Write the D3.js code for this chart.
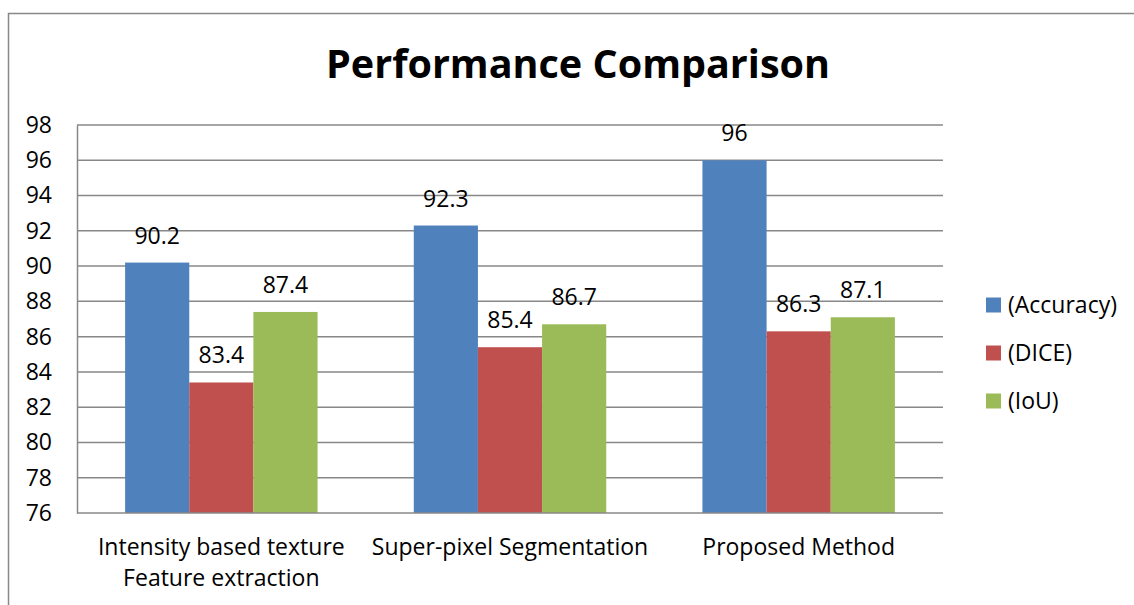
<!DOCTYPE html>
<html>
<head>
<meta charset="utf-8">
<script src="https://cdn.jsdelivr.net/npm/d3@7"></script>
<style>
  html, body { margin: 0; padding: 0; background: #fff; }
  svg { display: block; }
  text { font-family: "Open Sans", Lato, sans-serif; fill: #000; }
</style>
</head>
<body>
<svg id="chart" width="1134" height="605"></svg>
<script>
// Methods on the x axis (each may wrap onto two lines)
const categories = [
  ["Intensity based texture", "Feature extraction"],
  ["Super-pixel Segmentation"],
  ["Proposed Method"]
];
const seriesNames = ["(Accuracy)", "(DICE)", "(IoU)"];
const accuracy = [90.2, 92.3, 96];
const dice = [83.4, 85.4, 86.3];
const iou = [87.4, 86.7, 87.1];
const seriesValues = [accuracy, dice, iou];
const seriesColors = ["#4F81BD", "#C0504D", "#9BBB59"];
const yTicks = [76, 78, 80, 82, 84, 86, 88, 90, 92, 94, 96, 98];

const FONT = "\"Open Sans\", Lato, sans-serif";
const FS = 23;
const svg = d3.select("#chart");

// outer chart frame
svg.append("rect")
  .attr("x", 8.5).attr("y", 13.5)
  .attr("width", 1200).attr("height", 700)
  .attr("fill", "none").attr("stroke", "#888").attr("stroke-width", 1.5);

const plot = { left: 77, right: 943, top: 125, bottom: 513 };

const x0 = d3.scaleBand()
  .domain(d3.range(categories.length))
  .range([plot.left, plot.right])
  .paddingInner(0).paddingOuter(0);

// Excel-style gap width of 150%: three bars plus 1.5 bar widths of gap per band
const barW = x0.bandwidth() / 4.5;
const x1 = d3.scaleBand()
  .domain(d3.range(seriesNames.length))
  .range([0, barW * 3]);

const y = d3.scaleLinear()
  .domain([76, 98])
  .range([plot.bottom, plot.top]);

// horizontal gridlines
svg.append("g")
  .selectAll("line")
  .data(yTicks.filter(t => t !== 76))
  .join("line")
  .attr("x1", plot.left).attr("x2", plot.right)
  .attr("y1", d => y(d)).attr("y2", d => y(d))
  .attr("stroke", "#888").attr("stroke-width", 1.5);

// bars
const groups = svg.append("g")
  .selectAll("g")
  .data(categories.map((c, i) => i))
  .join("g")
  .attr("transform", i => `translate(${x0(i) + (x0.bandwidth() - barW * 3) / 2},0)`);

groups.selectAll("rect")
  .data(i => seriesValues.map((s, k) => ({ k, v: s[i] })))
  .join("rect")
  .attr("x", d => x1(d.k))
  .attr("width", x1.bandwidth())
  .attr("y", d => y(d.v))
  .attr("height", d => y(76) - y(d.v))
  .attr("fill", d => seriesColors[d.k]);

// value labels
groups.selectAll("text")
  .data(i => seriesValues.map((s, k) => ({ k, v: s[i] })))
  .join("text")
  .attr("x", d => x1(d.k) + x1.bandwidth() / 2)
  .attr("y", d => y(d.v) - 19)
  .attr("text-anchor", "middle")
  .attr("font-size", FS)
  .text(d => d.v);

// y axis
const yAxis = svg.append("g")
  .attr("transform", `translate(${plot.left},0)`)
  .call(d3.axisLeft(y).tickValues(yTicks).tickSize(0).tickPadding(25).tickFormat(d3.format("d")));
yAxis.select(".domain").attr("stroke", "#888").attr("stroke-width", 1.5);
yAxis.selectAll("text")
  .attr("font-size", FS)
  .attr("font-family", FONT)
  .attr("fill", "#000");

// x axis line
svg.append("line")
  .attr("x1", plot.left).attr("x2", plot.right)
  .attr("y1", plot.bottom).attr("y2", plot.bottom)
  .attr("stroke", "#888").attr("stroke-width", 1.5);

// category labels
const catLabels = svg.append("g")
  .selectAll("text")
  .data(categories.map((c, i) => ({ c, i })))
  .join("text")
  .attr("x", d => x0(d.i) + x0.bandwidth() / 2)
  .attr("y", 555)
  .attr("text-anchor", "middle")
  .attr("font-size", FS);
catLabels.selectAll("tspan")
  .data(d => d.c.map((line, j) => ({ line, j, x: x0(d.i) + x0.bandwidth() / 2 })))
  .join("tspan")
  .attr("x", d => d.x)
  .attr("dy", d => d.j === 0 ? 0 : 31)
  .text(d => d.line);

// title
svg.append("text")
  .attr("x", 578).attr("y", 78)
  .attr("text-anchor", "middle")
  .attr("font-size", 40)
  .attr("font-weight", "bold")
  .attr("textLength", 504)
  .attr("lengthAdjust", "spacingAndGlyphs")
  .text("Performance Comparison");

// legend
const legend = svg.append("g")
  .selectAll("g")
  .data(seriesNames.map((n, k) => ({ n, k })))
  .join("g")
  .attr("transform", d => `translate(986,${305 + d.k * 48})`);
legend.append("rect")
  .attr("x", 0).attr("y", -7.5)
  .attr("width", 15).attr("height", 15)
  .attr("fill", d => seriesColors[d.k]);
legend.append("text")
  .attr("x", 22).attr("y", 0)
  .attr("dy", "0.35em")
  .attr("font-size", FS)
  .text(d => d.n);
</script>
</body>
</html>
